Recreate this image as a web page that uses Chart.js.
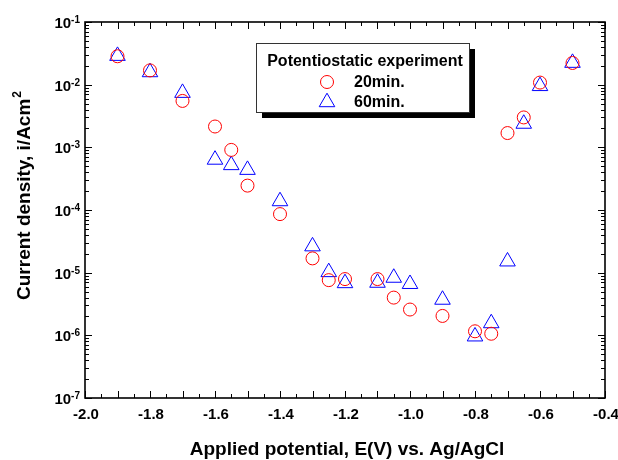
<!DOCTYPE html>
<html>
<head>
<meta charset="utf-8">
<script src="https://cdn.jsdelivr.net/npm/chart.js@4.4.1/dist/chart.umd.min.js"></script>
<style>
  html, body { margin: 0; padding: 0; background: #fff; }
  #wrap { width: 618px; height: 460px; }
</style>
</head>
<body>
<div id="wrap"><canvas id="polChart" width="618" height="460"></canvas></div>
<script>
// data
const potentials = [-1.9, -1.8, -1.7, -1.6, -1.55, -1.5, -1.4, -1.3, -1.25, -1.2, -1.1, -1.05, -1.0, -0.9, -0.8, -0.75, -0.7, -0.65, -0.6, -0.5];
const current20 = [2.84e-2, 1.69e-2, 5.5e-3, 2.15e-3, 9.1e-4, 2.45e-4, 8.6e-5, 1.69e-5, 7.6e-6, 7.9e-6, 7.9e-6, 4.0e-6, 2.58e-6, 2.04e-6, 1.16e-6, 1.06e-6, 1.69e-3, 3.0e-3, 1.08e-2, 2.22e-2];
const current60 = [2.88e-2, 1.58e-2, 7.4e-3, 6.35e-4, 5.2e-4, 4.37e-4, 1.38e-4, 2.63e-5, 1.02e-5, 6.8e-6, 6.9e-6, 8.3e-6, 6.6e-6, 3.7e-6, 9.6e-7, 1.56e-6, 1.51e-5, 2.38e-3, 9.5e-3, 2.23e-2];

const xTickLabels = ["-2.0", "-1.8", "-1.6", "-1.4", "-1.2", "-1.0", "-0.8", "-0.6", "-0.4"];
const yTickExponents = [-7, -6, -5, -4, -3, -2, -1];
const seriesNames = ["20min."];
seriesNames.push("60min.");
const legendTitle = "Potentiostatic experiment";
const xTitle = "Applied potential, E(V) vs. Ag/AgCl";
const yTitle = "Current density, i/Acm";

const FONT = "'Liberation Sans', Arial, sans-serif";

const toPoints = (ys) => potentials.map((x, i) => ({ x: x, y: ys[i] }));

// axes, ticks, titles and legend box drawn by hand
const decorations = {
    id: "decorations",
    afterDraw(chart) {
        const ctx = chart.ctx;
        const a = chart.chartArea;
        const xs = chart.scales.x;
        const ys = chart.scales.y;
        ctx.save();
        ctx.strokeStyle = "#000";
        ctx.fillStyle = "#000";

        // ticks
        ctx.lineWidth = 1;
        ctx.beginPath();
        for (let k = 0; k <= 32; k++) {
            const v = -2.0 + k * 0.05;
            const px = Math.round(xs.getPixelForValue(v)) + 0.5;
            const len = (k % 2 === 0) ? 7 : 4;
            ctx.moveTo(px, a.bottom); ctx.lineTo(px, a.bottom - len);
            ctx.moveTo(px, a.top); ctx.lineTo(px, a.top + len);
        }
        yTickExponents.forEach((e) => {
            for (let m = 1; m <= 9; m++) {
                if (e === -1 && m > 1) break;
                const py = Math.round(ys.getPixelForValue(m * Math.pow(10, e))) + 0.5;
                const len = (m === 1) ? 7 : 4;
                ctx.moveTo(a.left, py); ctx.lineTo(a.left + len, py);
                ctx.moveTo(a.right, py); ctx.lineTo(a.right - len, py);
            }
        });
        ctx.stroke();

        // frame
        ctx.lineWidth = 1.6;
        ctx.strokeRect(a.left, a.top, a.right - a.left, a.bottom - a.top);

        // x tick labels
        ctx.font = "bold 15px " + FONT;
        ctx.textAlign = "center";
        ctx.textBaseline = "alphabetic";
        xTickLabels.forEach((t) => {
            ctx.fillText(t, xs.getPixelForValue(parseFloat(t)) + 1, a.bottom + 21);
        });

        // y tick labels 10^n
        yTickExponents.forEach((e) => {
            const py = ys.getPixelForValue(Math.pow(10, e));
            ctx.font = "bold 10px " + FONT;
            ctx.textAlign = "right";
            const expStr = String(e);
            ctx.fillText(expStr, a.left - 5, py + 1);
            const ew = ctx.measureText(expStr).width;
            ctx.font = "bold 15px " + FONT;
            ctx.fillText("10", a.left - 5 - ew, py + 6);
        });

        // x title
        ctx.font = "bold 19px " + FONT;
        ctx.textAlign = "center";
        ctx.fillText(xTitle, (a.left + a.right) / 2 + 2, 455);

        // y title with superscript
        ctx.save();
        ctx.translate(30, 196);
        ctx.rotate(-Math.PI / 2);
        ctx.font = "bold 19px " + FONT;
        const tw = ctx.measureText(yTitle).width;
        ctx.font = "bold 12px " + FONT;
        const sw = ctx.measureText("2").width;
        const start = -(tw + sw) / 2;
        ctx.textAlign = "left";
        ctx.font = "bold 19px " + FONT;
        ctx.fillText(yTitle, start, 0);
        ctx.font = "bold 12px " + FONT;
        ctx.fillText("2", start + tw + 1, -9);
        ctx.restore();

        // legend box with shadow
        const bx = 256, by = 43, bw = 213, bh = 69;
        ctx.fillRect(bx + 6, by + 6, bw, bh);
        ctx.fillStyle = "#fff";
        ctx.fillRect(bx, by, bw, bh);
        ctx.lineWidth = 1;
        ctx.strokeStyle = "#333";
        ctx.strokeRect(bx + 0.5, by + 0.5, bw, bh);
        ctx.fillStyle = "#000";
        ctx.font = "bold 16px " + FONT;
        ctx.textAlign = "center";
        ctx.fillText(legendTitle, 365, 66);
        ctx.textAlign = "left";
        ctx.fillText(seriesNames[0], 354, 87);
        ctx.fillText(seriesNames[1], 354, 107);

        const ds = chart.data.datasets;
        ctx.lineWidth = 1;
        ctx.strokeStyle = ds[0].borderColor;
        ctx.beginPath();
        ctx.arc(327, 82, ds[0].pointRadius, 0, Math.PI * 2);
        ctx.stroke();
        const r = ds[1].pointRadius, cx = 327, cy = 102.2;
        ctx.strokeStyle = ds[1].borderColor;
        ctx.beginPath();
        ctx.moveTo(cx, cy - r);
        ctx.lineTo(cx + r * Math.sin(2 * Math.PI / 3), cy + r / 2);
        ctx.lineTo(cx - r * Math.sin(2 * Math.PI / 3), cy + r / 2);
        ctx.closePath();
        ctx.stroke();

        ctx.restore();
    }
};

const ctx = document.getElementById("polChart");

new Chart(ctx, {
    type: "scatter",
    data: {
        datasets: [{
            label: seriesNames[0],
            data: toPoints(current20),
            pointStyle: "circle",
            pointRadius: 6.5,
            pointBorderWidth: 1,
            borderColor: "#ff0000",
            pointBorderColor: "#ff0000",
            pointBackgroundColor: "rgba(0,0,0,0)",
            backgroundColor: "rgba(0,0,0,0)"
        }, {
            label: seriesNames[1],
            data: toPoints(current60),
            pointStyle: "triangle",
            pointRadius: 9,
            pointBorderWidth: 1,
            borderColor: "#0000ff",
            pointBorderColor: "#0000ff",
            pointBackgroundColor: "rgba(0,0,0,0)",
            backgroundColor: "rgba(0,0,0,0)"
        }]
    },
    options: {
        responsive: false,
        animation: false,
        events: [],
        layout: { padding: { left: 85, right: 13, top: 22, bottom: 62 } },
        plugins: {
            legend: { display: false },
            tooltip: { enabled: false }
        },
        scales: {
            x: { type: "linear", min: -2.0, max: -0.4, display: false },
            y: { type: "logarithmic", min: 1e-7, max: 1e-1, display: false }
        }
    },
    plugins: [decorations]
});
</script>
</body>
</html>
